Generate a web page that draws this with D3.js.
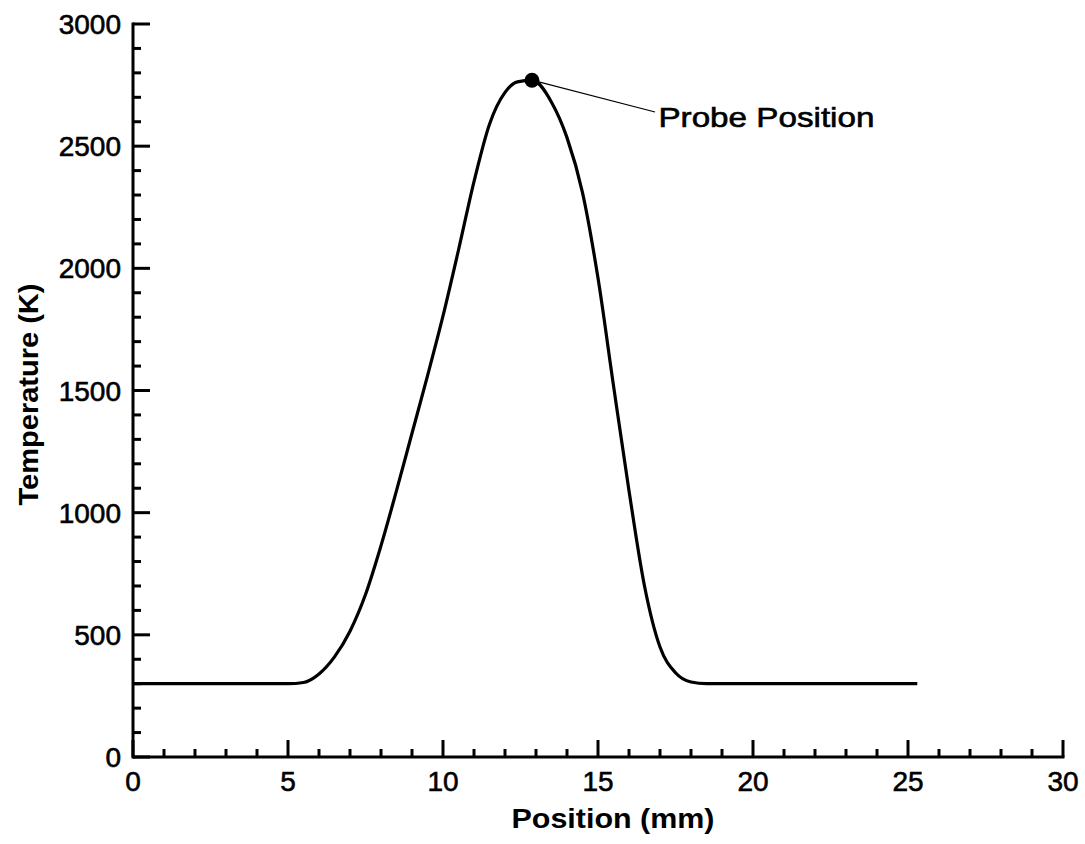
<!DOCTYPE html>
<html>
<head>
<meta charset="utf-8">
<script src="https://cdn.jsdelivr.net/npm/d3@7"></script>
<style>
  html, body { margin: 0; padding: 0; background: #fff; }
  svg { display: block; }
  text { font-family: "Liberation Sans", Arial, sans-serif; fill: #000; }
</style>
</head>
<body>
<svg id="chart" width="1085" height="844"></svg>
<script>
// Temperature profile along the burner axis
const position = [0, 2.5, 5.0, 5.5, 6.0, 6.5, 7.0, 7.5, 8.0, 8.5, 9.0, 9.5, 10.0, 10.5, 11.0,
                  11.5, 12.0, 12.4, 12.87, 13.5, 14.0, 14.5, 15.0, 15.5, 16.0, 16.5,
                  17.0, 17.5, 18.0, 18.5, 20.0, 22.5, 25.3];
const temperature = [300, 300, 300, 305, 340, 410, 515, 665, 865, 1090, 1325, 1560, 1805, 2075, 2355,
                     2590, 2720, 2763, 2770, 2680, 2535, 2310, 1960, 1520, 1090, 700,
                     450, 345, 307, 300, 300, 300, 300];

// Probe marker and its callout
const probe = { x: 12.87, t: 2770 };
const probeLabel = "Probe Position";
const leaderEnd = { x: 16.84, t: 2640 };
const labelAnchor = { x: 16.95, t: 2578 };

// Axis ticks
const xMajor = [0, 5, 10, 15, 20, 25, 30];
const xMinor = d3.range(0, 31, 1).filter(v => v % 5 !== 0);
const yMajor = [0, 500, 1000, 1500, 2000, 2500, 3000];
const yMinor = d3.range(0, 3001, 100).filter(v => v % 500 !== 0);
const xTitle = "Position (mm)";
const yTitle = "Temperature (K)";

const svg = d3.select("#chart");
const x = d3.scaleLinear().domain([0, 30]).range([133, 1063]);
const y = d3.scaleLinear().domain([0, 3000]).range([757, 24]);

// Axis lines
const axisG = svg.append("g").attr("stroke", "#000").attr("stroke-width", 3).attr("fill", "none");
axisG.append("line").attr("x1", x(0)).attr("x2", x(30) + 1.5).attr("y1", y(0)).attr("y2", y(0));
axisG.append("line").attr("x1", x(0)).attr("x2", x(0)).attr("y1", y(0) + 1.5).attr("y2", y(3000) - 1.5);

// Inward ticks
axisG.selectAll(".xmaj").data(xMajor).join("line")
  .attr("x1", d => x(d)).attr("x2", d => x(d)).attr("y1", y(0)).attr("y2", y(0) - 17);
axisG.selectAll(".xmin").data(xMinor).join("line")
  .attr("x1", d => x(d)).attr("x2", d => x(d)).attr("y1", y(0)).attr("y2", y(0) - 8);
axisG.selectAll(".ymaj").data(yMajor).join("line")
  .attr("x1", x(0)).attr("x2", x(0) + 17).attr("y1", d => y(d)).attr("y2", d => y(d));
axisG.selectAll(".ymin").data(yMinor).join("line")
  .attr("x1", x(0)).attr("x2", x(0) + 8).attr("y1", d => y(d)).attr("y2", d => y(d));

// Tick labels
svg.append("g").selectAll("text").data(xMajor).join("text")
  .attr("x", d => x(d)).attr("y", y(0) + 34)
  .attr("text-anchor", "middle").attr("font-size", 28)
  .attr("stroke", "#000").attr("stroke-width", 0.6)
  .text(d => d);
svg.append("g").selectAll("text").data(yMajor).join("text")
  .attr("x", x(0) - 12).attr("y", d => y(d)).attr("dy", "0.36em")
  .attr("text-anchor", "end").attr("font-size", 28)
  .attr("stroke", "#000").attr("stroke-width", 0.6)
  .text(d => d);

// Axis titles
svg.append("text")
  .attr("x", (x(0) + x(30)) / 2 + 15).attr("y", 828)
  .attr("text-anchor", "middle").attr("font-size", 27).attr("font-weight", "bold")
  .attr("textLength", 203).attr("lengthAdjust", "spacingAndGlyphs")
  .text(xTitle);
svg.append("text")
  .attr("transform", `translate(38, ${(y(0) + y(3000)) / 2 + 4}) rotate(-90)`)
  .attr("text-anchor", "middle").attr("font-size", 27).attr("font-weight", "bold")
  .attr("textLength", 222).attr("lengthAdjust", "spacingAndGlyphs")
  .text(yTitle);

// Temperature curve
const line = d3.line()
  .x((d, i) => x(position[i]))
  .y(d => y(d))
  .curve(d3.curveMonotoneX);
svg.append("path")
  .datum(temperature)
  .attr("d", line)
  .attr("fill", "none").attr("stroke", "#000").attr("stroke-width", 3.2)
  .attr("stroke-linejoin", "round");

// Probe marker with leader line
svg.append("line")
  .attr("x1", x(probe.x)).attr("y1", y(probe.t))
  .attr("x2", x(leaderEnd.x)).attr("y2", y(leaderEnd.t))
  .attr("stroke", "#000").attr("stroke-width", 1.2);
svg.append("circle")
  .attr("cx", x(probe.x)).attr("cy", y(probe.t)).attr("r", 7.5)
  .attr("fill", "#000");
svg.append("text")
  .attr("x", x(labelAnchor.x)).attr("y", y(labelAnchor.t))
  .attr("font-size", 28)
  .attr("stroke", "#000").attr("stroke-width", 0.6)
  .attr("textLength", 216).attr("lengthAdjust", "spacingAndGlyphs")
  .text(probeLabel);
</script>
</body>
</html>
